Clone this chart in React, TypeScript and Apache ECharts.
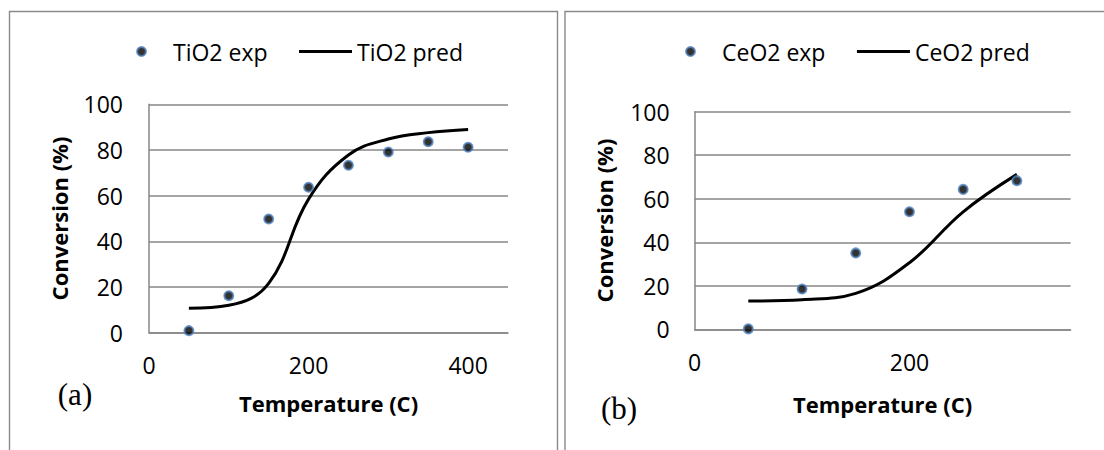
import React, { useEffect, useRef } from "react";
import * as echarts from "echarts";

// TiO2 panel (a)
const tio2Temp = [50, 100, 150, 200, 250, 300, 350, 400];
const tio2Exp = [0.9, 16.2, 49.8, 63.7, 73.3, 79.1, 83.6, 81.2];
const tio2Pred = [10.7, 12.0, 21.6, 58.5, 77.8, 84.8, 87.6, 89.0];

// CeO2 panel (b)
const ceo2Temp = [50, 100, 150, 200, 250, 300];
const ceo2Exp = [0.2, 18.5, 35.1, 54.0, 64.3, 68.3];
const ceo2Pred = [13.0, 13.6, 16.5, 30.6, 54.0, 71.2];

const yTicks = { min: 0, max: 100, interval: 20 };
const xLeft = { min: 0, max: 450, interval: 200 };
const xRight = { min: 0, max: 350, interval: 200 };

const FONT = "'Open Sans', 'Noto Sans', sans-serif";
const GRID_COLOR = "#878787";
const BLUE = "#4F81BD";

const pair = (xs: number[], ys: number[]) => xs.map((x, i) => [x, ys[i]]);

export default function App() {
  const ref = useRef<HTMLDivElement>(null);
  useEffect(() => {
    if (!ref.current) return;
    const chart = echarts.init(ref.current, undefined, { renderer: "svg" });

    const xAxisBase = (gridIndex: number, r: any, gap: number) => ({
      type: "value",
      gridIndex,
      min: r.min,
      max: r.max,
      interval: r.interval,
      name: "Temperature (C)",
      nameLocation: "middle",
      nameGap: gap,
      nameTextStyle: { fontSize: 22, fontWeight: "bold", color: "#000", fontFamily: FONT },
      axisLine: { show: true, lineStyle: { color: GRID_COLOR, width: 1.5 } },
      axisTick: { show: false },
      splitLine: { show: false },
      axisLabel: { fontSize: 23, color: "#000", fontFamily: FONT, margin: 21, showMaxLabel: false },
    });
    const yAxisBase = (gridIndex: number, gap: number, margin: number) => ({
      type: "value",
      gridIndex,
      min: yTicks.min,
      max: yTicks.max,
      interval: yTicks.interval,
      name: "Conversion (%)",
      nameLocation: "middle",
      nameGap: gap,
      nameTextStyle: { fontSize: 22, fontWeight: "bold", color: "#000", fontFamily: FONT },
      axisLine: { show: true, lineStyle: { color: GRID_COLOR, width: 1.5 } },
      axisTick: { show: false },
      splitLine: { show: true, lineStyle: { color: GRID_COLOR, width: 1.5 } },
      axisLabel: { fontSize: 23, color: "#000", fontFamily: FONT, margin },
    });

    const scatterStyle = { color: "#000", borderColor: BLUE, borderWidth: 2 };
    const legendBase = {
      itemWidth: 53,
      itemHeight: 9,
      itemGap: 30,
      textStyle: { fontSize: 23, color: "#000", fontFamily: FONT },
      selectedMode: false,
    };
    const lineItem = (name: string) => ({
      name,
      itemStyle: { opacity: 0, color: "transparent", borderWidth: 0 },
      lineStyle: { width: 3, color: "#000", opacity: 1 },
    });

    chart.setOption({
      animation: false,
      backgroundColor: "#fff",
      textStyle: { fontFamily: FONT },
      graphic: [
        {
          type: "rect",
          shape: { x: 9.5, y: 11.5, width: 548, height: 600 },
          style: { fill: "none", stroke: "#8a8a8a", lineWidth: 1.4 },
          silent: true,
        },
        {
          type: "rect",
          shape: { x: 565, y: 11.5, width: 700, height: 600 },
          style: { fill: "none", stroke: "#8a8a8a", lineWidth: 1.4 },
          silent: true,
        },
        {
          type: "text",
          x: 75,
          y: 394,
          style: {
            text: "(a)",
            font: "31px 'Liberation Serif', 'DejaVu Serif', serif",
            fill: "#000",
            align: "center",
            verticalAlign: "middle",
          },
        },
        {
          type: "text",
          x: 619,
          y: 408,
          style: {
            text: "(b)",
            font: "31px 'Liberation Serif', 'DejaVu Serif', serif",
            fill: "#000",
            align: "center",
            verticalAlign: "middle",
          },
        },
      ],
      legend: [
        { ...legendBase, left: 131, top: 35, data: ["TiO2 exp", lineItem("TiO2 pred")] },
        { ...legendBase, left: 680, top: 35, data: ["CeO2 exp", lineItem("CeO2 pred")] },
      ],
      grid: [
        { left: 149, top: 104.3, width: 359, height: 228.4 },
        { left: 694.6, top: 111.7, width: 376, height: 217.6 },
      ],
      xAxis: [xAxisBase(0, xLeft, 59), xAxisBase(1, xRight, 64)],
      yAxis: [yAxisBase(0, 79, 26), yAxisBase(1, 80, 25)],
      series: [
        {
          name: "TiO2 exp",
          type: "scatter",
          xAxisIndex: 0,
          yAxisIndex: 0,
          data: pair(tio2Temp, tio2Exp),
          symbol: "circle",
          symbolSize: 9,
          itemStyle: scatterStyle,
          z: 3,
        },
        {
          name: "TiO2 pred",
          type: "line",
          xAxisIndex: 0,
          yAxisIndex: 0,
          data: pair(tio2Temp, tio2Pred),
          smooth: 0.4,
          symbol: "none",
          showSymbol: false,
          lineStyle: { color: "#000", width: 3 },
          itemStyle: { color: "#000" },
          z: 2,
        },
        {
          name: "CeO2 exp",
          type: "scatter",
          xAxisIndex: 1,
          yAxisIndex: 1,
          data: pair(ceo2Temp, ceo2Exp),
          symbol: "circle",
          symbolSize: 9,
          itemStyle: scatterStyle,
          z: 3,
        },
        {
          name: "CeO2 pred",
          type: "line",
          xAxisIndex: 1,
          yAxisIndex: 1,
          data: pair(ceo2Temp, ceo2Pred),
          smooth: 0.4,
          symbol: "none",
          showSymbol: false,
          lineStyle: { color: "#000", width: 3 },
          itemStyle: { color: "#000" },
          z: 2,
        },
      ],
    });
    return () => chart.dispose();
  }, []);

  return (
    <div
      ref={ref}
      style={{ position: "absolute", left: 0, top: 0, width: 1104, height: 450, background: "#fff" }}
    />
  );
}
